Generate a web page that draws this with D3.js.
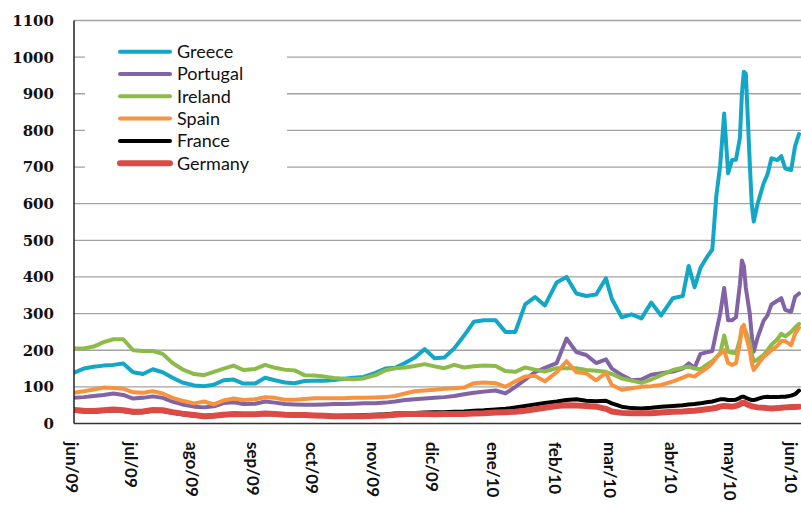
<!DOCTYPE html>
<html>
<head>
<meta charset="utf-8">
<script src="https://cdn.jsdelivr.net/npm/d3@7"></script>
<style>
  body { margin: 0; background: #fff; }
</style>
</head>
<body>
<div id="graphic"></div>
<script>
// sample dates (roughly every 5 days, denser in apr/may 2010)
const dates = [
  "2009-06-01","2009-06-06","2009-06-11","2009-06-16","2009-06-21","2009-06-26",
  "2009-07-01","2009-07-06","2009-07-11","2009-07-16","2009-07-21","2009-07-26",
  "2009-08-01","2009-08-06","2009-08-11","2009-08-16","2009-08-21","2009-08-26",
  "2009-09-01","2009-09-06","2009-09-11","2009-09-16","2009-09-21","2009-09-26",
  "2009-10-01","2009-10-06","2009-10-11","2009-10-16","2009-10-21","2009-10-26",
  "2009-11-01","2009-11-06","2009-11-11","2009-11-16","2009-11-21","2009-11-26",
  "2009-12-01","2009-12-06","2009-12-11","2009-12-16","2009-12-21","2009-12-26",
  "2010-01-01","2010-01-06","2010-01-11","2010-01-16","2010-01-21","2010-01-26",
  "2010-02-01","2010-02-06","2010-02-11","2010-02-16","2010-02-21","2010-02-26",
  "2010-03-01","2010-03-06","2010-03-11","2010-03-16","2010-03-21","2010-03-26",
  "2010-04-01","2010-04-06","2010-04-09","2010-04-12","2010-04-15","2010-04-18",
  "2010-04-21","2010-04-23","2010-04-25","2010-04-27","2010-04-29",
  "2010-05-01","2010-05-03","2010-05-05","2010-05-06","2010-05-07","2010-05-08",
  "2010-05-10","2010-05-11","2010-05-12","2010-05-14","2010-05-17","2010-05-19",
  "2010-05-21","2010-05-24","2010-05-26","2010-05-28","2010-05-31",
  "2010-06-02","2010-06-04"
];

const greece = [
  139,150,155,158,160,164,
  140,135,148,140,125,112,
  104,102,106,118,120,109,
  109,125,118,112,110,116,
  117,117,119,122,125,127,
  138,150,152,165,180,203,
  178,180,205,240,278,282,
  282,250,250,325,345,322,
  385,400,355,348,352,396,
  340,290,298,287,330,295,
  342,348,430,372,425,452,475,620,705,846,683,
  719,720,780,900,960,955,710,600,551,600,655,680,724,719,730,696,692,
  757,790
];
const portugal = [
  70,72,75,78,82,78,
  68,70,74,70,60,52,
  46,44,47,56,58,53,
  54,60,57,53,52,51,
  51,52,53,53,54,55,
  55,57,60,64,66,68,
  70,72,75,80,84,87,
  90,82,100,120,140,152,
  165,232,195,187,165,175,
  150,132,118,120,133,137,
  142,150,164,152,190,194,198,250,300,370,282,
  282,290,380,445,430,370,300,240,196,235,280,295,325,335,342,310,305,
  346,355
];
const ireland = [
  205,205,210,222,230,230,
  200,198,198,190,165,148,
  135,132,141,150,158,146,
  149,160,152,147,145,132,
  131,128,124,122,121,123,
  132,145,151,153,157,162,
  156,151,160,153,156,158,
  157,143,141,153,147,142,
  151,151,151,146,144,141,
  135,123,117,111,120,132,
  146,152,155,150,148,160,170,180,192,240,196,
  193,192,230,262,260,250,220,190,169,175,187,200,215,230,245,238,250,
  262,272
];
const spain = [
  84,88,93,98,97,95,
  85,84,88,82,70,62,
  55,60,52,63,68,64,
  66,72,70,65,65,67,
  69,69,69,69,70,70,
  71,72,75,82,88,90,
  92,95,96,98,110,112,
  110,100,115,128,130,115,
  140,170,140,137,118,138,
  105,92,96,100,102,105,
  115,125,132,128,140,150,165,180,190,200,165,
  160,164,220,262,269,240,200,165,146,160,182,190,200,212,225,225,214,
  245,262
];
const france = [
  35,33,32,34,36,34,
  30,31,35,34,29,25,
  21,19,20,23,25,24,
  24,26,25,23,22,22,
  21,21,20,21,22,23,
  24,25,27,28,29,30,
  31,31,32,33,35,36,
  38,40,44,48,52,56,
  60,64,66,62,61,62,
  55,46,42,41,43,46,
  48,50,52,53,55,58,60,63,66,66,64,
  64,65,70,73,73,70,66,64,64,67,72,73,72,72,73,73,76,
  80,90
];
const germany = [
  37,35,34,36,38,36,
  32,33,37,36,31,27,
  23,20,21,24,26,25,
  25,27,26,24,23,23,
  22,21,20,20,20,20,
  21,22,24,26,26,26,
  25,26,26,26,27,28,
  30,31,32,35,39,43,
  48,50,49,48,46,40,
  33,29,28,28,28,30,
  32,33,34,35,37,39,41,43,46,48,47,
  46,48,52,56,57,54,49,47,46,44,43,42,41,42,43,44,45,
  45,46
];

const countries = ["Greece", "Portugal", "Ireland", "Spain", "France", "Germany"];
const seriesValues = [greece, portugal, ireland, spain, france, germany];
const monthLabels = ["jun/09","jul/09","ago/09","sep/09","oct/09","nov/09","dic/09",
                     "ene/10","feb/10","mar/10","abr/10","may/10","jun/10"];
const yTicks = [0,100,200,300,400,500,600,700,800,900,1000,1100];

const colors = ["#12a7c6", "#8264a6", "#8dbb4a", "#f7923f", "#000000", "#dc4a46"];
const widths = [4, 4, 4, 4, 4, 6];

// dimensions
const W = 801, H = 505;
const plot = {left: 74, right: 801, top: 20.5, bottom: 423.5};

const svg = d3.select("#graphic")
    .append("svg")
    .attr("width", W)
    .attr("height", H);

const parse = d3.utcParse("%Y-%m-%d");
const x = d3.scaleUtc()
    .domain([parse("2009-06-01"), parse("2010-06-05")])
    .range([plot.left, plot.right]);
const y = d3.scaleLinear()
    .domain([0, 1100])
    .range([plot.bottom, plot.top]);

// gridlines
svg.append("g")
    .selectAll("line")
    .data(yTicks.filter(d => d > 0))
    .join("line")
    .attr("x1", plot.left).attr("x2", plot.right)
    .attr("y1", d => y(d)).attr("y2", d => y(d))
    .attr("stroke", "#a3a3a3")
    .attr("stroke-width", 1.3);

// y labels
svg.append("g")
    .selectAll("text")
    .data(yTicks)
    .join("text")
    .attr("x", 54)
    .attr("y", d => y(d))
    .attr("dy", "0.36em")
    .attr("text-anchor", "end")
    .style("font-family", "DejaVu Serif")
    .style("font-weight", "bold")
    .style("font-size", "15px")
    .style("fill", "#111")
    .text(d => d);

// month labels, rotated
const months = d3.utcMonth.range(parse("2009-06-01"), parse("2010-06-02"));
svg.append("g")
    .selectAll("text")
    .data(months)
    .join("text")
    .attr("transform", d => `translate(${x(d) - 2}, 442) rotate(90)`)
    .attr("dy", "0.36em")
    .attr("text-anchor", "start")
    .style("font-family", "Lato")
    .style("font-weight", "bold")
    .style("font-size", "17px")
    .style("fill", "#111")
    .text((d, i) => monthLabels[i]);

// lines
svg.append("clipPath").attr("id", "clip")
  .append("rect")
    .attr("x", plot.left).attr("y", 0)
    .attr("width", plot.right - plot.left).attr("height", plot.bottom);

const line = d3.line()
    .x((d, i) => x(parse(dates[i])))
    .y(d => y(d));

svg.append("g")
    .attr("clip-path", "url(#clip)")
    .selectAll("path")
    .data(seriesValues)
    .join("path")
    .attr("d", d => line(d))
    .attr("fill", "none")
    .attr("stroke", (d, i) => colors[i])
    .attr("stroke-width", (d, i) => widths[i])
    .attr("stroke-linejoin", "round")
    .attr("stroke-linecap", "round");

// axes lines
svg.append("line")
    .attr("x1", plot.left).attr("x2", plot.left)
    .attr("y1", plot.top).attr("y2", plot.bottom)
    .attr("stroke", "#222").attr("stroke-width", 1.5);
svg.append("line")
    .attr("x1", plot.left).attr("x2", plot.right)
    .attr("y1", plot.bottom).attr("y2", plot.bottom)
    .attr("stroke", "#333").attr("stroke-width", 1.5);

// legend
const legend = svg.append("g");
legend.append("rect")
    .attr("x", 85).attr("y", 32)
    .attr("width", 202).attr("height", 146)
    .attr("fill", "#fff");

const item = legend.selectAll("g.item")
    .data(countries)
    .join("g")
    .attr("class", "item")
    .attr("transform", (d, i) => `translate(0, ${51.7 + i * 22.3})`);

item.append("line")
    .attr("x1", 120).attr("x2", 170)
    .attr("stroke", (d, i) => colors[i])
    .attr("stroke-width", (d, i) => widths[i])
    .attr("stroke-linecap", "round");

item.append("text")
    .attr("x", 177)
    .attr("dy", "0.35em")
    .style("font-family", "Lato")
    .style("font-size", "18px")
    .style("fill", "#111")
    .text(d => d);
</script>
</body>
</html>
